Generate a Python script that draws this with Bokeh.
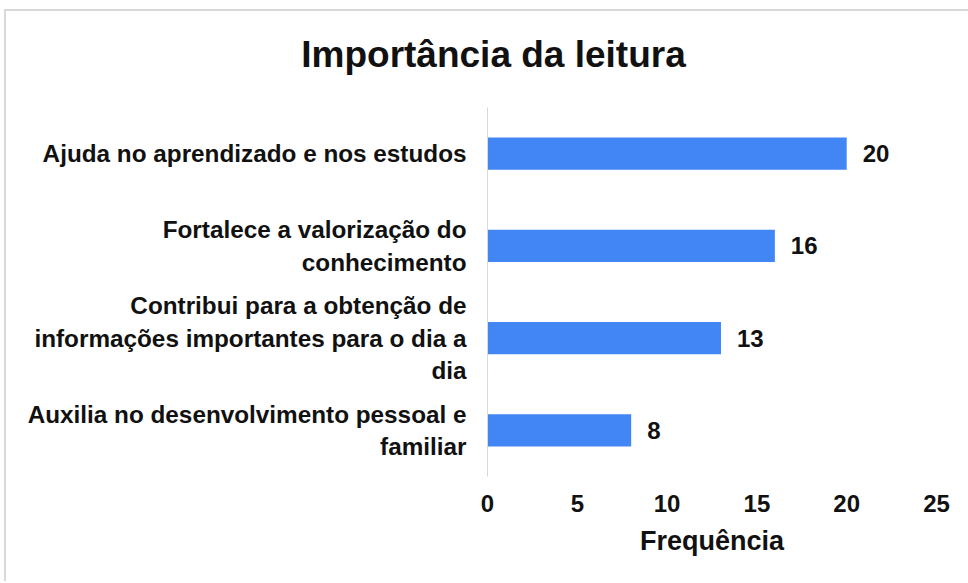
from bokeh.plotting import figure
from bokeh.layouts import column
from bokeh.models import Range1d, FactorRange, ColumnDataSource, LabelSet, FixedTicker, Div
from bokeh.core.properties import value
from bokeh.embed import file_html
from bokeh.resources import INLINE

categories = [
    "Ajuda no aprendizado e nos estudos",
    "Fortalece a valorização do\nconhecimento",
    "Contribui para a obtenção de\ninformações importantes para o dia a\ndia",
    "Auxilia no desenvolvimento pessoal e\nfamiliar",
]
values = [20, 16, 13, 8]
x_ticks = [0, 5, 10, 15, 20, 25]
title_text = "Importância da leitura"
x_label = "Frequência"

FONT = "Liberation Sans"
TXT = "#111111"

src = ColumnDataSource(dict(cat=categories, val=values, lab=[str(v) for v in values]))

title_div = Div(
    text=f'<div style="font-family:\'{FONT}\';font-size:37px;font-weight:bold;color:{TXT};'
         f'line-height:45px;padding-top:21px;padding-left:27px;text-align:center;width:948px;">'
         f'{title_text}</div>',
    width=962, height=96, margin=(0, 0, 0, 0),
)

p = figure(
    width=962, height=474,
    y_range=FactorRange(*reversed(categories), range_padding=0),
    x_range=Range1d(0, 25),
    output_backend="svg", toolbar_location=None,
    min_border_left=481, min_border_right=32, min_border_top=0, min_border_bottom=105,
)

p.hbar(y="cat", right="val", height=0.35, source=src, fill_color="#4285f4", line_color=None)

labels = LabelSet(x="val", y="cat", text="lab", source=src, x_offset=16,
                  text_baseline="middle", text_font=value(FONT), text_font_size=value("24px"),
                  text_font_style=value("bold"), text_color=value(TXT))
p.add_layout(labels)

p.xaxis.ticker = FixedTicker(ticks=x_ticks)
p.xaxis.axis_line_color = None
p.xaxis.major_tick_line_color = None
p.xaxis.minor_tick_line_color = None
p.xaxis.major_label_standoff = 12
p.xaxis.major_label_text_font = FONT
p.xaxis.major_label_text_font_size = "24px"
p.xaxis.major_label_text_font_style = "bold"
p.xaxis.major_label_text_color = TXT
p.xaxis.axis_label = x_label
p.xaxis.axis_label_standoff = 11
p.xaxis.axis_label_text_font = FONT
p.xaxis.axis_label_text_font_size = "27px"
p.xaxis.axis_label_text_font_style = "bold"
p.xaxis.axis_label_text_color = TXT

p.yaxis.axis_line_color = "#d9d9d9"
p.yaxis.major_tick_line_color = None
p.yaxis.minor_tick_line_color = None
p.yaxis.major_label_standoff = 15
p.yaxis.major_label_text_font = FONT
p.yaxis.major_label_text_font_size = "24.3px"
p.yaxis.major_label_text_font_style = "bold"
p.yaxis.major_label_text_color = TXT

p.xgrid.grid_line_color = None
p.ygrid.grid_line_color = None
p.outline_line_color = None

layout = column(title_div, p, spacing=0)
layout.styles = {"border-left": "2px solid #d9d9d9", "border-top": "2px solid #d9d9d9",
                 "margin-left": "4px", "margin-top": "9px"}

open("out.html", "w").write(file_html(layout, INLINE))
